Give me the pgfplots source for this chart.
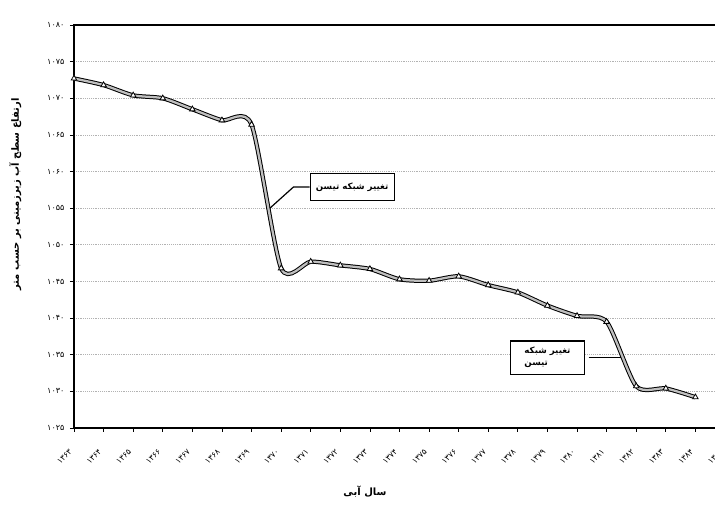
\documentclass[border=0pt]{standalone}
\usepackage{pgfplots}
\usepackage{pgfplotstable}
\pgfplotsset{compat=1.18}
\usepackage{fontspec}
\setmainfont{DejaVu Sans}
\newfontfamily\arabicfont[Script=Arabic]{DejaVu Sans}
\TeXXeTstate=1

\pgfplotstableread{
year level
1363 1072.7
1364 1071.8
1365 1070.4
1366 1070.0
1367 1068.5
1368 1067.0
1369 1066.4
1370 1046.8
1371 1047.7
1372 1047.2
1373 1046.7
1374 1045.3
1375 1045.1
1376 1045.7
1377 1044.5
1378 1043.5
1379 1041.7
1380 1040.3
1381 1039.5
1382 1030.7
1383 1030.4
1384 1029.2
}\levels

\begin{document}
\begin{tikzpicture}
\begin{axis}[
  name=ax, at={(0,0)}, anchor=south west,
  scale only axis, width=488.25pt, height=302.25pt,
  xmin=1363, xmax=1385, ymin=1025, ymax=1080,
  xtick pos=left, ytick pos=left,
  xtick={1363,...,1385},
  xticklabels={۱۳۶۳,۱۳۶۴,۱۳۶۵,۱۳۶۶,۱۳۶۷,۱۳۶۸,۱۳۶۹,۱۳۷۰,۱۳۷۱,۱۳۷۲,۱۳۷۳,۱۳۷۴,۱۳۷۵,۱۳۷۶,۱۳۷۷,۱۳۷۸,۱۳۷۹,۱۳۸۰,۱۳۸۱,۱۳۸۲,۱۳۸۳,۱۳۸۴,۱۳۸۵},
  ytick={1025,1030,...,1080},
  yticklabels={۱۰۲۵,۱۰۳۰,۱۰۳۵,۱۰۴۰,۱۰۴۵,۱۰۵۰,۱۰۵۵,۱۰۶۰,۱۰۶۵,۱۰۷۰,۱۰۷۵,۱۰۸۰},
  tick align=outside, major tick length=3pt,
  tick style={black, line width=0.5pt},
  axis line style={black, line width=0.9pt},
  xticklabel style={font=\fontsize{6}{7}\selectfont, rotate=45, anchor=north east, inner sep=1pt, xshift=-10.5pt, yshift=-5pt},
  yticklabel style={font=\fontsize{6}{7}\selectfont, inner sep=4pt},
  ymajorgrids, major grid style={densely dotted, gray!60, line width=0.5pt},
]
\addplot[black, line width=3.2pt, smooth, tension=0.42] table[x=year, y=level] {\levels};
\addplot[gray!50, line width=1.7pt, smooth, tension=0.42,
  mark=triangle*, mark options={fill=white, draw=black, line width=0.6pt, mark size=2.4pt, solid}] table[x=year, y=level] {\levels};
\coordinate (c1) at (axis cs:1372.4,1057.9);
\coordinate (t1) at (axis cs:1369.62,1055.0);
\coordinate (c2) at (axis cs:1379.0,1034.6);
\coordinate (yl) at (axis description cs:-0.09,0.58);
\coordinate (xl) at (axis description cs:0.447,-0.159);
\end{axis}

\node[draw=black, line width=0.9pt, fill=white, minimum width=63pt, minimum height=20pt,
  font=\arabicfont\bfseries\fontsize{6.5}{8}\selectfont] (b1) at (c1) {\beginR تغییر شبکه تیسن\endR};
\draw[black, line width=0.9pt] (b1.west) -- ++(-12pt,0) -- (t1);

\node[draw=black, line width=0.9pt, fill=white, minimum width=55pt, minimum height=25pt, align=left,
  font=\arabicfont\bfseries\fontsize{6.5}{9}\selectfont] (b2) at (c2) {\beginR تغییر شبکه\endR\\\beginR تیسن\endR};
\draw[black, line width=0.9pt] ([xshift=3pt]b2.east) -- ++(24pt,0);

\node[rotate=90, font=\arabicfont\bfseries\fontsize{7.5}{9}\selectfont] at (yl) {\beginR ارتفاع سطح آب زیرزمینی بر حسب متر\endR};
\node[font=\arabicfont\bfseries\fontsize{7.5}{9}\selectfont] at (xl) {\beginR سال آبی\endR};

\pgfresetboundingbox
\path[use as bounding box] (-55.5pt,-59.25pt) rectangle (480.75pt,321pt);
\end{tikzpicture}
\end{document}
